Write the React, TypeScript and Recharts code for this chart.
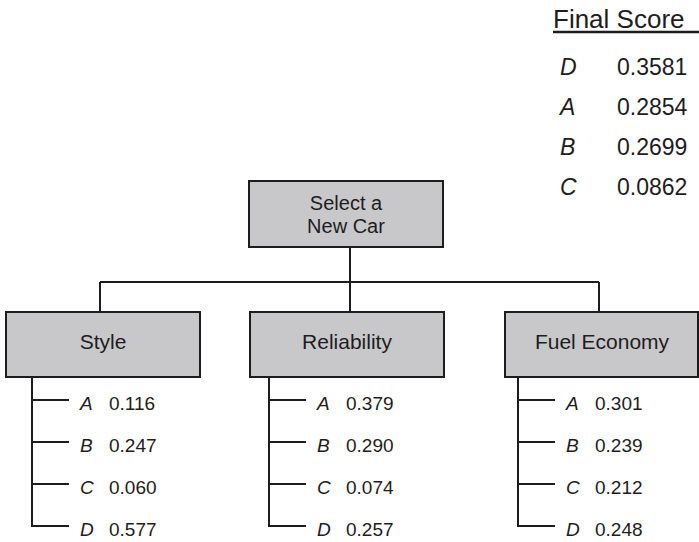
import React from 'react';
import { ComposedChart, XAxis, YAxis, Scatter, ReferenceArea, ReferenceLine } from 'recharts';

// ---------- DATA ----------
const goalLines = ['Select a', 'New Car'];
const criteria = ['Style', 'Reliability', 'Fuel Economy'];
const alternatives = ['A', 'B', 'C', 'D'];
const styleWeights = [0.116, 0.247, 0.06, 0.577];
const reliabilityWeights = [0.379, 0.29, 0.074, 0.257];
const fuelEconomyWeights = [0.301, 0.239, 0.212, 0.248];
const finalTitle = 'Final Score';
const finalRanking = ['D', 'A', 'B', 'C'];
const finalScores = [0.3581, 0.2854, 0.2699, 0.0862];

// ---------- LAYOUT (diagram space, passed through the chart scales) ----------
const W = 699;
const H = 542;
const FONT = '"Liberation Sans", Arial, Helvetica, sans-serif';
const INK = '#1e1c1d';
const BOX_FILL = '#c8c8ca';
const goalBox = { x1: 249, x2: 443, y1: 181, y2: 247 };
const goalTextX = 346;
const goalBaselines = [210, 233];
const critLeft = [6, 250, 505];
const critWidth = 194;
const critTop = 312;
const critBottom = 377;
const critLabelBaseline = 349;
const busY = 282;
const dropX = [100, 350, 599];
const spineX = [32, 269, 518];
const tickLen = 37;
const letterOffset = 48;
const valueOffset = 77;
const rowTick0 = 400;
const rowStep = 42;
const rowTextDy = 10;
const finalX = 553;
const finalTitleBaseline = 28;
const finalUnderlineY = 32;
const finalLetterX = 560;
const finalValueX = 617;
const finalRow0 = 75;
const finalStep = 40;

const weightsByCriterion = [styleWeights, reliabilityWeights, fuelEconomyWeights];

type Lbl = { x: number; y: number; text: string; italic?: boolean; size: number; anchor?: string };

const labels: Lbl[] = [];
goalLines.forEach((t, i) => labels.push({ x: goalTextX, y: goalBaselines[i], text: t, size: 20, anchor: 'middle' }));
criteria.forEach((c, ci) => {
  labels.push({ x: critLeft[ci] + critWidth / 2, y: critLabelBaseline, text: c, size: 21, anchor: 'middle' });
  alternatives.forEach((a, ai) => {
    const y = rowTick0 + ai * rowStep + rowTextDy;
    labels.push({ x: spineX[ci] + letterOffset, y, text: a, italic: true, size: 19 });
    labels.push({ x: spineX[ci] + valueOffset, y, text: weightsByCriterion[ci][ai].toFixed(3), size: 19 });
  });
});
labels.push({ x: finalX, y: finalTitleBaseline, text: finalTitle, size: 26 });
finalRanking.forEach((a, i) => {
  const y = finalRow0 + i * finalStep;
  labels.push({ x: finalLetterX, y, text: a, italic: true, size: 23 });
  labels.push({ x: finalValueX, y, text: finalScores[i].toFixed(4), size: 23 });
});

const TextShape = (props: any) => {
  const { cx, cy, payload } = props;
  return (
    <text
      x={cx}
      y={cy}
      fontFamily={FONT}
      fontSize={payload.size}
      fontStyle={payload.italic ? 'italic' : 'normal'}
      textAnchor={payload.anchor || 'start'}
      fill={INK}
    >
      {payload.text}
    </text>
  );
};

const lineProps = { stroke: INK, strokeWidth: 2, ifOverflow: 'visible' as const };

export default function App() {
  return (
    <div style={{ position: 'absolute', left: 0, top: 0, background: '#fff' }}>
      <ComposedChart width={W} height={H} margin={{ top: 0, right: 0, bottom: 0, left: 0 }}>
        <XAxis type="number" dataKey="x" domain={[0, W]} allowDataOverflow hide />
        <YAxis type="number" dataKey="y" domain={[0, H]} allowDataOverflow reversed hide />

        {/* connectors */}
        <ReferenceLine segment={[{ x: dropX[1], y: goalBox.y2 }, { x: dropX[1], y: busY }]} {...lineProps} />
        <ReferenceLine segment={[{ x: dropX[0], y: busY }, { x: dropX[2], y: busY }]} {...lineProps} />
        {dropX.map((x, i) => (
          <ReferenceLine key={'d' + i} segment={[{ x, y: busY }, { x, y: critTop }]} {...lineProps} />
        ))}
        {spineX.map((sx, ci) => (
          <ReferenceLine
            key={'s' + ci}
            segment={[{ x: sx, y: critBottom }, { x: sx, y: rowTick0 + (alternatives.length - 1) * rowStep }]}
            {...lineProps}
          />
        ))}
        {spineX.map((sx, ci) =>
          alternatives.map((a, ai) => (
            <ReferenceLine
              key={'t' + ci + a}
              segment={[{ x: sx - 1, y: rowTick0 + ai * rowStep }, { x: sx + tickLen, y: rowTick0 + ai * rowStep }]}
              {...lineProps}
            />
          ))
        )}
        <ReferenceLine
          segment={[{ x: finalX, y: finalUnderlineY }, { x: W, y: finalUnderlineY }]}
          stroke={INK}
          strokeWidth={2.5}
          ifOverflow="visible"
        />

        {/* boxes */}
        <ReferenceArea
          x1={goalBox.x1}
          x2={goalBox.x2}
          y1={goalBox.y1}
          y2={goalBox.y2}
          fill={BOX_FILL}
          fillOpacity={1}
          stroke={INK}
          strokeWidth={2}
          ifOverflow="visible"
        />
        {criteria.map((c, ci) => (
          <ReferenceArea
            key={c}
            x1={critLeft[ci]}
            x2={Math.min(critLeft[ci] + critWidth, W - 1)}
            y1={critTop}
            y2={critBottom}
            fill={BOX_FILL}
            fillOpacity={1}
            stroke={INK}
            strokeWidth={2}
            ifOverflow="visible"
          />
        ))}

        <Scatter data={labels} shape={TextShape} isAnimationActive={false} />
      </ComposedChart>
    </div>
  );
}
